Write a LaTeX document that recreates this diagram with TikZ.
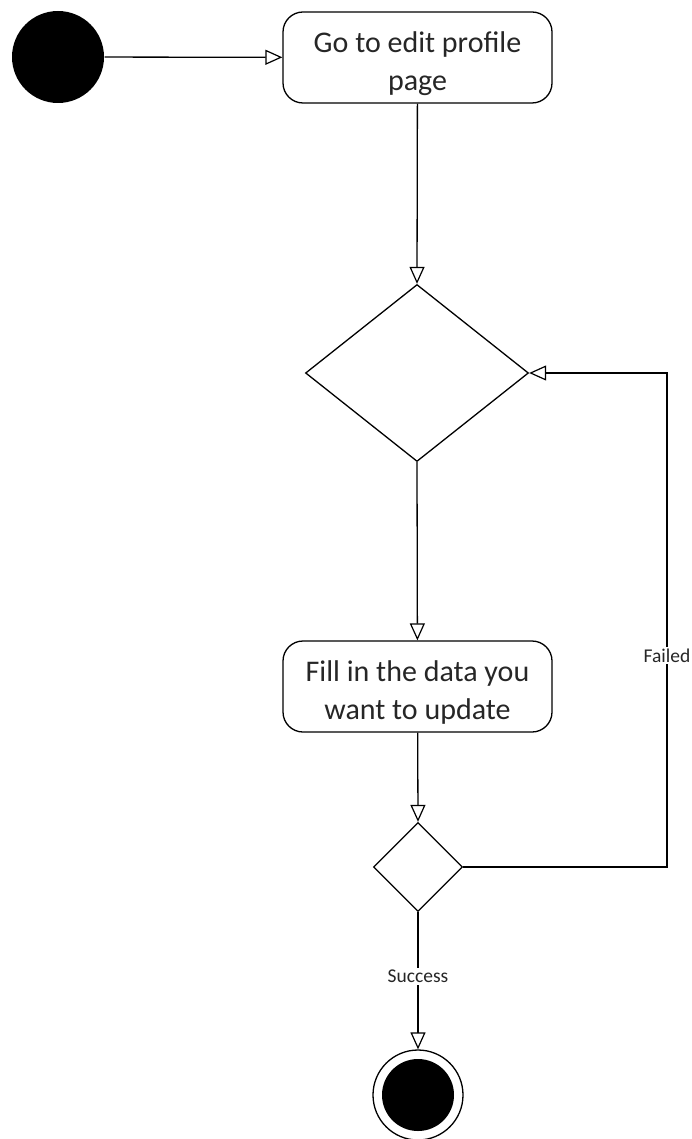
\documentclass[tikz,border=0pt]{standalone}
\usepackage{fontspec}
\setmainfont{Carlito}
\usetikzlibrary{shapes.geometric,arrows.meta}
% zero-width strut that lowers the first line of an action label
\newcommand{\toppad}{\rule{0pt}{33pt}}
\begin{document}
\begin{tikzpicture}[x=1pt,y=-1pt,
  line width=1.3pt,
  flow/.style={-{Triangle[open,length=17pt,width=15pt,line width=1.2pt]}},
  action/.style={draw,rounded corners=20pt,minimum width=269pt,minimum height=91pt,
    align=center,font=\fontsize{30}{38}\selectfont,inner sep=4pt,text=black!85},
  decision/.style={draw,diamond,inner sep=0pt},
  guard/.style={fill=white,font=\fontsize{19.5}{22}\selectfont,inner sep=2pt,text=black!85}]
\useasboundingbox (0,0) rectangle (692,1139);
% initial state
\node[circle,fill=black,minimum size=92pt,inner sep=0pt] (start) at (58,57) {};
% actions
\node[action] (edit) at (417.5,57.5) {\toppad Go to edit profile\\page};
\node[action] (fill) at (417.5,686.5) {\toppad Fill in the data you\\want to update};
% decisions
\node[decision,minimum width=223pt,minimum height=177pt] (check) at (417,373) {};
\node[decision,minimum width=89pt,minimum height=89pt] (result) at (418,867) {};
% final state
\node[circle,draw,minimum size=90pt,inner sep=0pt] (final) at (418,1095) {};
\node[circle,fill=black,minimum size=72pt,inner sep=0pt] (finaldot) at (final) {};
% flows
\draw[flow] (start) -- (edit);
\draw[flow] (edit) -- (check.north);
\draw[flow] (check.south) -- (fill);
\draw[flow] (fill) -- (result.north);
\coordinate (loop) at (667,867);
\draw[flow] (result.east) -- (loop) |- node[guard,pos=0.214]{Failed} (check.east);
\draw[flow] (result.south) -- node[guard,pos=0.47]{Success} (final.north);
\end{tikzpicture}
\end{document}
